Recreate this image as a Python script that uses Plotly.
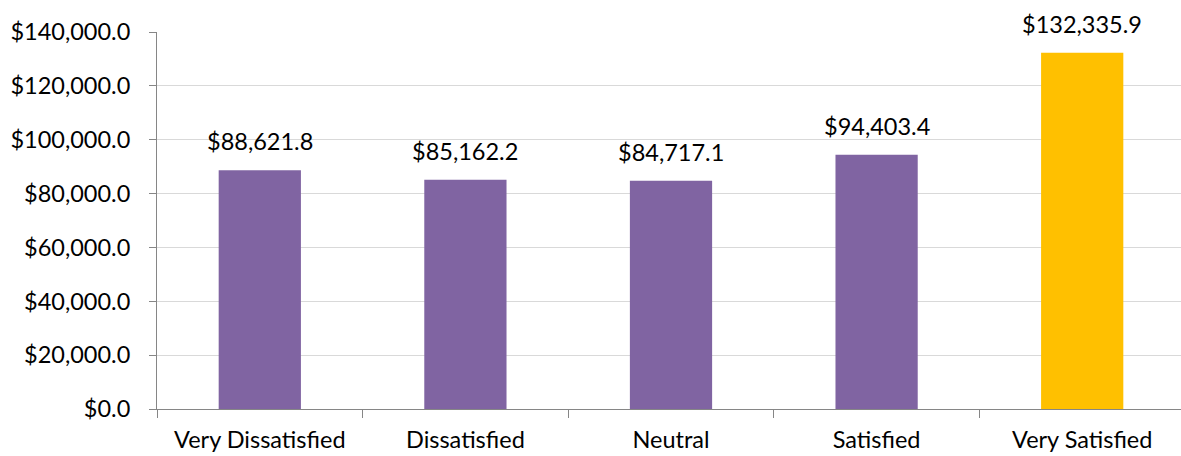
import plotly.graph_objects as go

categories = ["Very Dissatisfied", "Dissatisfied", "Neutral", "Satisfied", "Very Satisfied"]
values = [88621.8, 85162.2, 84717.1, 94403.4, 132335.9]
colors = ["#8064A2", "#8064A2", "#8064A2", "#8064A2", "#FFC000"]
labels = [f"${v:,.1f}" for v in values]

fig = go.Figure()
fig.add_trace(go.Bar(
    x=categories, y=values,
    marker=dict(color=colors, line=dict(width=0)),
    hoverinfo="skip",
))

# data labels above each bar
for cat, val, lab in zip(categories, values, labels):
    fig.add_annotation(
        x=cat, y=val, text=lab, showarrow=False,
        yanchor="middle", yshift=29,
        font=dict(size=23.5, color="#000000"),
    )

fig.update_layout(
    width=1185, height=456,
    margin=dict(l=157, r=0, t=32, b=47),
    plot_bgcolor="white", paper_bgcolor="white",
    font=dict(family="Lato, Calibri, sans-serif", size=23.5, color="#000000"),
    bargap=0.6, showlegend=False,
)
fig.update_yaxes(
    range=[0, 140000], dtick=20000, tickprefix="$", tickformat=",.1f",
    showgrid=True, gridcolor="#D9D9D9", gridwidth=1,
    showline=True, linecolor="#868686", linewidth=1,
    ticks="outside", ticklen=7, tickcolor="#868686", zeroline=False,
    automargin=False, ticklabelstandoff=14,
)
fig.update_xaxes(
    showline=True, linecolor="#868686", linewidth=1,
    ticks="outside", ticklen=8, tickcolor="#868686", tickson="boundaries",
    showgrid=False, automargin=False, ticklabelstandoff=10,
)

fig.write_html(
    "out.html",
    config={"displayModeBar": False},
    post_script="document.body.style.margin='0';document.body.style.overflow='hidden';",
)
